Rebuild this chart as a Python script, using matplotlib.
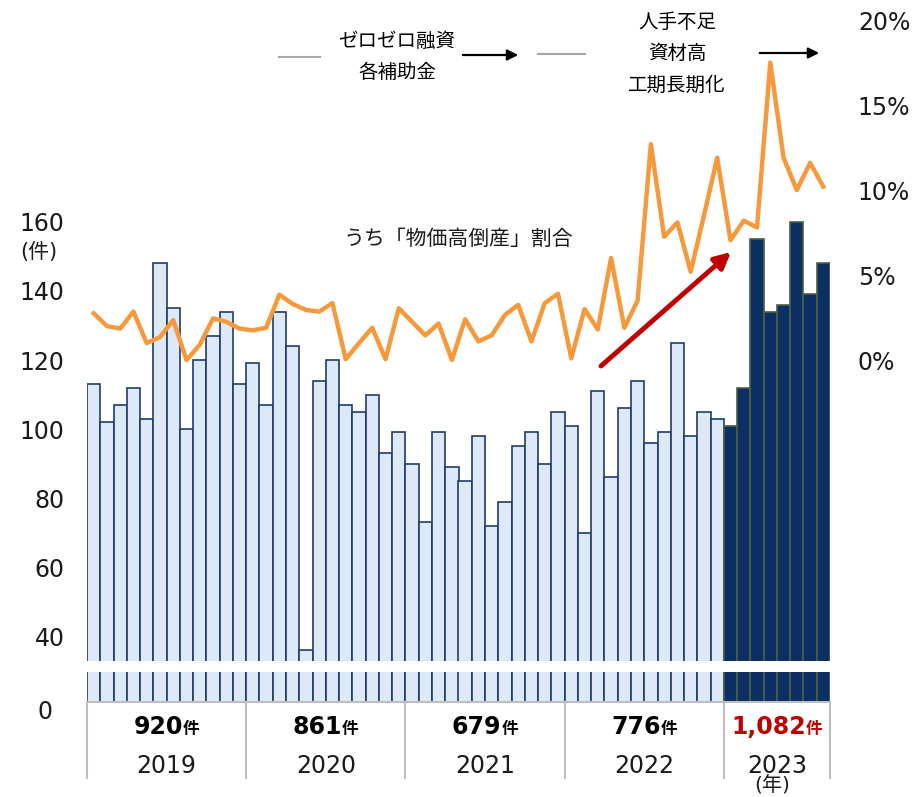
import matplotlib
matplotlib.use("Agg")
import matplotlib.pyplot as plt
from matplotlib.lines import Line2D
from matplotlib.patches import FancyArrowPatch
import numpy as np

plt.rcParams['font.family'] = ['DejaVu Sans', 'Noto Sans CJK JP']

# 月次の倒産件数 (2019/1 - 2023/8)
cnt_2019 = [113, 102, 107, 112, 103, 148, 135, 100, 120, 127, 134, 113]
cnt_2020 = [119, 107, 134, 124, 36, 114, 120, 107, 105, 110, 93, 99]
cnt_2021 = [90, 73, 99, 89, 85, 98, 72, 79, 95, 99, 90, 105]
cnt_2022 = [101, 70, 111, 86, 106, 114, 96, 99, 125, 98, 105, 103]
cnt_2023 = [101, 112, 155, 134, 136, 160, 139, 148]

# うち「物価高倒産」割合 (%)
pct_2019 = [2.75, 2.0, 1.85, 2.85, 1.0, 1.35, 2.35, 0.0, 0.9, 2.45, 2.25, 1.85]
pct_2020 = [1.75, 1.9, 3.85, 3.3, 2.95, 2.85, 3.35, 0.05, 1.0, 1.9, 0.05, 3.05]
pct_2021 = [2.25, 1.45, 2.15, 0.0, 2.4, 1.1, 1.45, 2.65, 3.25, 1.1, 3.35, 3.9]
pct_2022 = [0.1, 3.0, 1.8, 6.0, 1.9, 3.5, 12.7, 7.25, 8.1, 5.2, 8.5, 11.9]
pct_2023 = [7.05, 8.2, 7.8, 17.5, 11.9, 10.0, 11.6, 10.2]

years = ["2019", "2020", "2021", "2022", "2023"]
totals = ["920", "861", "679", "776", "1,082"]
left_ticks = [40, 60, 80, 100, 120, 140, 160]
right_ticks = [0, 5, 10, 15, 20]

counts = cnt_2019 + cnt_2020 + cnt_2021 + cnt_2022 + cnt_2023
pct = pct_2019 + pct_2020 + pct_2021 + pct_2022 + pct_2023
n_year = [len(cnt_2019), len(cnt_2020), len(cnt_2021), len(cnt_2022), len(cnt_2023)]
x = np.arange(len(counts))

W, H = 916, 797
def fx(px):
    return px / W
def fy(py):
    return 1 - py / H

light_face, light_edge = '#DDE9F6', '#1F3C6E'
dark_face, dark_edge = '#0C2F63', '#4E5F44'
face = [light_face] * 48 + [dark_face] * len(cnt_2023)
edge = [light_edge] * 48 + [dark_edge] * len(cnt_2023)

fig = plt.figure(figsize=(W / 100, H / 100), dpi=100)
ax = fig.add_axes([fx(87), fy(661), fx(830) - fx(87), 661 / H])
ax_low = fig.add_axes([fx(87), fy(702), fx(830) - fx(87), 30 / H])
ax2 = ax.twinx()

for a in (ax, ax_low):
    a.bar(x, counts, width=1.0, color=face, edgecolor=edge, linewidth=1.2)
    a.set_xlim(-0.5, len(counts) - 0.5)
    a.set_xticks([])
    for s in a.spines.values():
        s.set_visible(False)

ax.set_ylim(32.8, 224.3)
ax.set_yticks(left_ticks)
ax.set_yticklabels([str(v) for v in left_ticks], fontsize=17, color='#1a1a1a')
ax.tick_params(axis='y', length=0, pad=16)

ax_low.set_ylim(0, 8.7)
ax_low.set_yticks([])
ax_low.spines['bottom'].set_visible(True)
ax_low.spines['bottom'].set_color('#BFBFBF')
ax_low.spines['bottom'].set_linewidth(1.5)

ax2.plot(x, pct, color='#F7993B', linewidth=3.2)
ax2.set_ylim(-17.7, 21.18)
ax2.set_yticks(right_ticks)
ax2.set_yticklabels([f"{v}%" for v in right_ticks], fontsize=17, color='#1a1a1a')
ax2.tick_params(axis='y', length=0, pad=20)
for s in ax2.spines.values():
    s.set_visible(False)

# 赤い矢印
ax2.annotate('', xy=(fx(731), fy(252)), xytext=(fx(601), fy(366)),
             xycoords='figure fraction', textcoords='figure fraction',
             arrowprops=dict(arrowstyle='-|>', color='#C00000', lw=3.5,
                             mutation_scale=24, shrinkA=0, shrinkB=0))

fig.text(fx(458), fy(239), "うち「物価高倒産」割合", fontsize=15, ha='center', va='center', color='#1a1a1a')

# 上部の注記
fig.add_artist(Line2D([fx(279), fx(320)], [fy(57), fy(57)], color='#A6A6A6', lw=1.5))
fig.text(fx(397), fy(41), "ゼロゼロ融資", fontsize=14, ha='center', va='center')
fig.text(fx(397), fy(73), "各補助金", fontsize=14, ha='center', va='center')
fig.add_artist(Line2D([fx(538), fx(585)], [fy(54), fy(54)], color='#A6A6A6', lw=1.5))
fig.text(fx(677), fy(22), "人手不足", fontsize=14, ha='center', va='center')
fig.text(fx(677), fy(53), "資材高", fontsize=14, ha='center', va='center')
fig.text(fx(677), fy(85), "工期長期化", fontsize=14, ha='center', va='center')
for x0, x1, yy in [(460, 521, 55), (757, 822, 53)]:
    fig.add_artist(FancyArrowPatch(
        (fx(x0), fy(yy)), (fx(x1), fy(yy)), transform=fig.transFigure,
        arrowstyle='-|>', mutation_scale=16, color='black', lw=1.6))

# 左軸の補助ラベル
fig.text(fx(39), fy(252), "(件)", fontsize=15, ha='center', va='center', color='#1a1a1a')
fig.text(fx(45), fy(712), "0", fontsize=17, ha='center', va='center', color='#1a1a1a')
fig.text(fx(772), fy(786), "(年)", fontsize=14.5, ha='center', va='center', color='#1a1a1a')

# 年ごとの表
bounds = np.concatenate([[0], np.cumsum(n_year)]) - 0.5
tr = ax_low.get_xaxis_transform()
for b in bounds:
    ax_low.add_line(Line2D([b, b], [0, -76 / 30], transform=tr, color='#BFBFBF',
                           lw=1.5, clip_on=False))

fig.canvas.draw()
r = fig.canvas.get_renderer()
for i in range(len(years)):
    xc = (bounds[i] + bounds[i + 1]) / 2
    px = ax_low.transData.transform((xc, 0))[0]
    col = '#C00000' if i == len(years) - 1 else 'black'
    t1 = fig.text(0, fy(734), totals[i], fontsize=17, weight='bold', color=col,
                  ha='left', va='baseline')
    t2 = fig.text(0, fy(734), "件", fontsize=12, weight='bold', color=col,
                  ha='left', va='baseline')
    w1 = t1.get_window_extent(r).width
    w2 = t2.get_window_extent(r).width
    left = px - (w1 + w2) / 2
    t1.set_x(left / W)
    t2.set_x((left + w1) / W)
    fig.text(px / W, fy(766), years[i], fontsize=17, ha='center', va='center', color='#1a1a1a')

fig.savefig("out.png", dpi=100)
